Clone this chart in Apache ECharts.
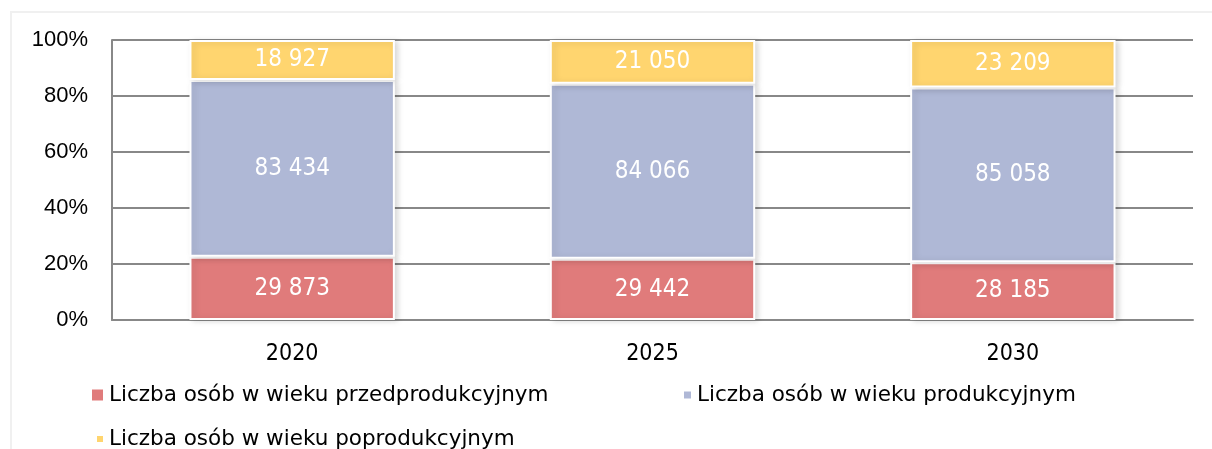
<!DOCTYPE html>
<html>
<head>
<meta charset="utf-8">
<script src="https://cdn.jsdelivr.net/npm/echarts@6/dist/echarts.min.js"></script>
<style>
  html, body { margin: 0; padding: 0; background: #fff; }
  #frame { position: absolute; left: 10px; top: 11px; width: 1210px; height: 450px; border: 2px solid #f0f0f0; box-sizing: border-box; }
  #chart { position: absolute; left: 0; top: 0; width: 1212px; height: 449px; }
</style>
</head>
<body>
<div id="frame"></div>
<div id="chart"></div>
<script>
// dane
var years = ['2020', '2025', '2030'];
var przedprodukcyjny = [29873, 29442, 28185];
var produkcyjny = [83434, 84066, 85058];
var poprodukcyjny = [18927, 21050, 23209];
var names = [
    'Liczba osób w wieku przedprodukcyjnym',
    'Liczba osób w wieku produkcyjnym',
    'Liczba osób w wieku poprodukcyjnym'
];
var colors = ['#E07B7B', '#AFB8D6', '#FFD56F'];

var FONT = '"DejaVu Sans Condensed", "DejaVu Sans", sans-serif';
var FONT_WIDE = '"DejaVu Sans", sans-serif';
var FONT_AXIS = '"Liberation Sans", Arial, sans-serif';

var fmt = function(v) {
    return String(v).replace(/\B(?=(\d{3})+(?!\d))/g, ' ');
};

var totals = years.map(function(y, i) {
    return przedprodukcyjny[i] + produkcyjny[i] + poprodukcyjny[i];
});

var makeSeries = function(name, arr, color) {
    return {
        name: name,
        type: 'bar',
        stack: 'all',
        barWidth: '57%',
        data: arr.map(function(v, i) {
            return { value: v / totals[i] * 100, raw: v };
        }),
        itemStyle: {
            color: color,
            borderColor: '#fff',
            borderWidth: 2,
            shadowColor: 'rgba(0,0,0,0.15)',
            shadowBlur: 6,
            shadowOffsetX: 3,
            shadowOffsetY: 1
        },
        label: {
            show: true,
            position: 'inside',
            color: '#fff',
            fontFamily: FONT,
            fontSize: 24,
            formatter: function(p) { return fmt(p.data.raw); }
        }
    };
};

var legendItem = function(name, left, top, size) {
    return {
        left: left,
        top: top,
        selectedMode: false,
        icon: 'rect',
        itemWidth: size,
        itemHeight: size,
        itemGap: 0,
        textStyle: { fontFamily: FONT_WIDE, fontSize: 21.5, color: '#000' },
        data: [name]
    };
};

var myChart = echarts.init(document.getElementById('chart'));
myChart.setOption({
    animation: false,
    color: colors,
    grid: { left: 112, right: 19, top: 40, bottom: 129, containLabel: false },
    legend: [
        legendItem(names[0], 85, 379, 13),
        legendItem(names[1], 677, 379, 9),
        legendItem(names[2], 90, 423, 8)
    ],
    xAxis: {
        type: 'category',
        data: years,
        axisTick: { show: false },
        axisLine: { lineStyle: { color: '#888', width: 2 } },
        axisLabel: { color: '#000', fontFamily: FONT, fontSize: 23, margin: 23 }
    },
    yAxis: {
        type: 'value',
        min: 0,
        max: 100,
        interval: 20,
        axisLine: { show: true, lineStyle: { color: '#888', width: 2 } },
        axisTick: { show: false },
        splitLine: { lineStyle: { color: '#888', width: 2 } },
        axisLabel: { color: '#000', fontFamily: FONT_AXIS, fontSize: 22, margin: 24, formatter: '{value}%' }
    },
    series: [
        makeSeries(names[0], przedprodukcyjny, colors[0]),
        makeSeries(names[1], produkcyjny, colors[1]),
        makeSeries(names[2], poprodukcyjny, colors[2])
    ]
});
</script>
</body>
</html>
